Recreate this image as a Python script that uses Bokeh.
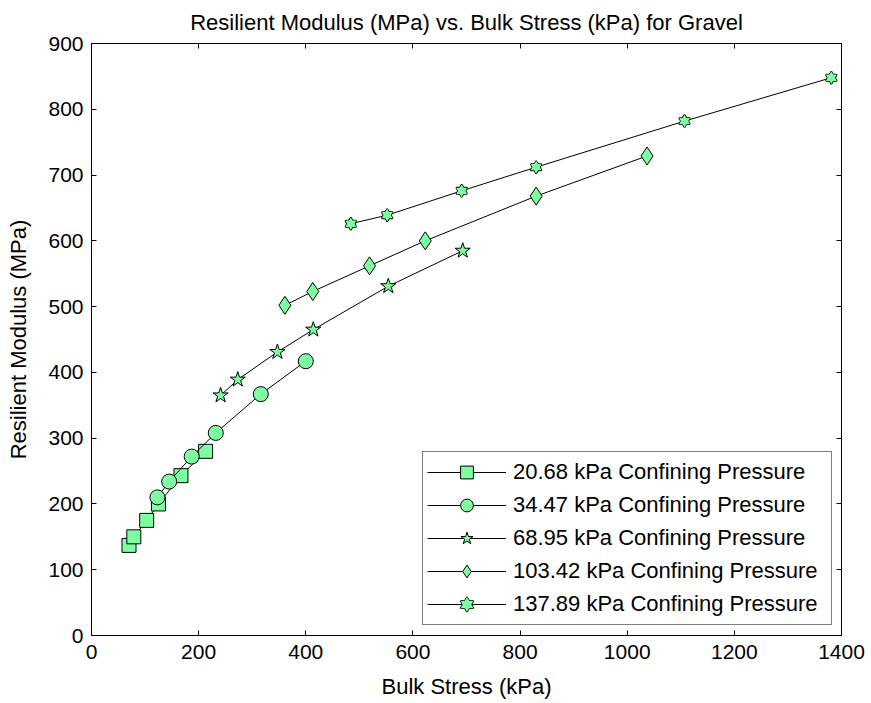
from bokeh.plotting import figure
from bokeh.models import Range1d, LinearAxis, FixedTicker, Legend, LegendItem, CustomJSTickFormatter
from bokeh.embed import file_html
from bokeh.resources import INLINE

title_text = "Resilient Modulus (MPa) vs. Bulk Stress (kPa) for Gravel"
x_label = "Bulk Stress (kPa)"
y_label = "Resilient Modulus (MPa)"
x_ticks = [0, 200, 400, 600, 800, 1000, 1200, 1400]
y_ticks = [0, 100, 200, 300, 400, 500, 600, 700, 800, 900]

labels = [
    "20.68 kPa Confining Pressure",
    "34.47 kPa Confining Pressure",
    "68.95 kPa Confining Pressure",
    "103.42 kPa Confining Pressure",
    "137.89 kPa Confining Pressure",
]
bulk_20 = [70, 79, 103, 125, 167, 213]
mr_20 = [137, 150, 175, 200, 243, 280]
bulk_34 = [123, 145, 187, 232, 316, 400]
mr_34 = [210, 234, 272, 308, 367, 417]
bulk_69 = [241, 273, 347, 414, 554, 693]
mr_69 = [365, 389, 431, 465, 531, 585]
bulk_103 = [361, 413, 519, 623, 830, 1037]
mr_103 = [502, 523, 562, 600, 668, 729]
bulk_138 = [484, 552, 691, 830, 1107, 1381]
mr_138 = [626, 639, 676, 712, 782, 848]

FONT = "Liberation Sans"
FILL = "#7DFFA1"
FS = "22px"
TICK_FS = "21px"

p = figure(width=871, height=703, output_backend="svg", toolbar_location=None,
           x_range=Range1d(0, 1400), y_range=Range1d(0, 900),
           min_border_left=91, min_border_right=30, min_border_top=43,
           min_border_bottom=68)
p.title.text = title_text
p.title.align = "center"
p.title.vertical_align = "top"
p.title.text_font = FONT
p.title.text_font_size = FS
p.title.text_font_style = "normal"
p.title.text_color = "black"
p.title.standoff = 14
p.xgrid.visible = False
p.ygrid.visible = False
p.outline_line_color = "black"
p.outline_line_width = 1
p.background_fill_color = "white"
p.border_fill_color = "white"

for ax, ticks in ((p.xaxis[0], x_ticks), (p.yaxis[0], y_ticks)):
    ax.ticker = FixedTicker(ticks=ticks)
    ax.major_tick_in = 5
    ax.major_tick_out = 0
    ax.minor_tick_line_color = None
    ax.axis_line_color = "black"
    ax.major_tick_line_color = "black"
    ax.major_label_text_font = FONT
    ax.major_label_text_font_size = TICK_FS
    ax.major_label_text_color = "black"
    ax.axis_label_text_font = FONT
    ax.axis_label_text_font_size = FS
    ax.axis_label_text_font_style = "normal"
    ax.axis_label_text_color = "black"
p.xaxis.axis_label = x_label
p.yaxis.axis_label = y_label
p.xaxis.major_label_standoff = 9
p.yaxis.major_label_standoff = 8
p.xaxis.axis_label_standoff = 12
p.yaxis.axis_label_standoff = 14

blank = CustomJSTickFormatter(code="return ''")
top = LinearAxis(ticker=FixedTicker(ticks=x_ticks), formatter=blank,
                 major_tick_in=5, major_tick_out=0, minor_tick_line_color=None,
                 major_label_text_font_size="1px", major_label_standoff=0,
                 axis_line_color="black")
right = LinearAxis(ticker=FixedTicker(ticks=y_ticks), formatter=blank,
                   major_tick_in=5, major_tick_out=0, minor_tick_line_color=None,
                   major_label_text_font_size="1px", major_label_standoff=0,
                   axis_line_color="black")
p.add_layout(top, "above")
p.add_layout(right, "right")

items = []

def line_of(xs, ys):
    return p.line(xs, ys, line_color="black", line_width=1)

r1 = line_of(bulk_20, mr_20)
m1 = p.scatter(bulk_20, mr_20, marker="square", size=14, fill_color=FILL, line_color="black", line_width=1)
items.append(LegendItem(label=labels[0], renderers=[r1, m1]))

r2 = line_of(bulk_34, mr_34)
m2 = p.scatter(bulk_34, mr_34, marker="circle", size=15, fill_color=FILL, line_color="black", line_width=1)
items.append(LegendItem(label=labels[1], renderers=[r2, m2]))

r3 = line_of(bulk_69, mr_69)
m3 = p.scatter(bulk_69, mr_69, marker="star", size=16, fill_color=FILL, line_color="black", line_width=1)
items.append(LegendItem(label=labels[2], renderers=[r3, m3]))

r4 = line_of(bulk_103, mr_103)
m4 = p.scatter(bulk_103, mr_103, marker="diamond", size=18, fill_color=FILL, line_color="black", line_width=1)
items.append(LegendItem(label=labels[3], renderers=[r4, m4]))

r5 = line_of(bulk_138, mr_138)
h1 = p.scatter(bulk_138, mr_138, marker="triangle", size=11, fill_color=FILL, line_color="black", line_width=1.6)
h2 = p.scatter(bulk_138, mr_138, marker="inverted_triangle", size=11, fill_color=FILL, line_color="black", line_width=1.6)
h3 = p.scatter(bulk_138, mr_138, marker="triangle", size=11, fill_color=FILL, line_color=None)
h4 = p.scatter(bulk_138, mr_138, marker="inverted_triangle", size=11, fill_color=FILL, line_color=None)
items.append(LegendItem(label=labels[4], renderers=[r5, h1, h2, h3, h4]))

legend = Legend(items=items, location=(331, 10))
legend.label_text_font = FONT
legend.label_text_font_size = FS
legend.label_text_color = "black"
legend.glyph_width = 79
legend.glyph_height = 32
legend.label_height = 32
legend.label_width = 314
legend.spacing = 1
legend.padding = 4
legend.margin = 0
legend.label_standoff = 7
legend.border_line_color = "black"
legend.border_line_width = 1
legend.background_fill_color = "white"
legend.background_fill_alpha = 1
p.add_layout(legend, "center")

open("out.html", "w").write(file_html(p, INLINE))
